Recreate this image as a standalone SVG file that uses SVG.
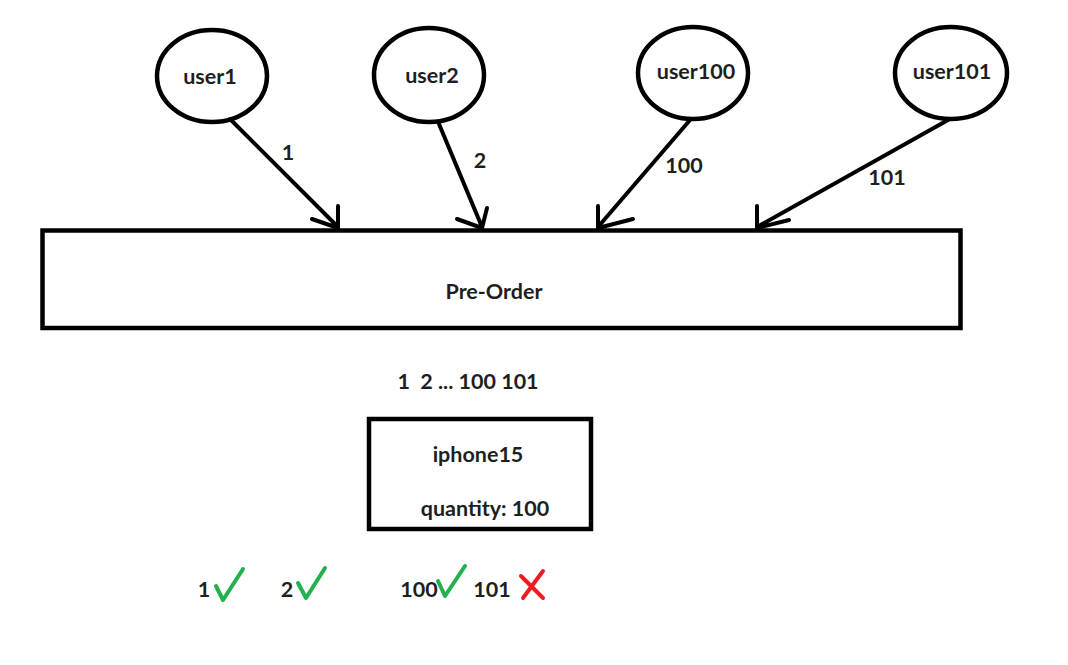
<svg xmlns="http://www.w3.org/2000/svg" width="1068" height="665" viewBox="0 0 1068 665">
<style>
.n{fill:#fff;stroke:#000;stroke-width:4.5}
.t{font-family:Lato,"Open Sans","Liberation Sans",sans-serif;font-weight:700;font-size:21.5px;fill:#1e1e1e;text-anchor:middle}
.c{fill:none;stroke:#000;stroke-width:4;stroke-linecap:round;stroke-linejoin:round}
.ok{fill:none;stroke:#22b14c;stroke-width:4;stroke-linecap:round;stroke-linejoin:round}
.no{fill:none;stroke:#ed1c24;stroke-width:4;stroke-linecap:round}
</style>
<rect width="1068" height="665" fill="#fff"/>
<g id="user1"><ellipse class="n" cx="212" cy="76" rx="55" ry="46"/><text class="t" x="210" y="84">user1</text></g>
<g id="user2"><ellipse class="n" cx="429" cy="75" rx="55" ry="47"/><text class="t" x="432" y="83">user2</text></g>
<g id="user100"><ellipse class="n" cx="693" cy="73" rx="55" ry="46"/><text class="t" x="696" y="79">user100</text></g>
<g id="user101"><ellipse class="n" cx="951" cy="73" rx="56" ry="46"/><text class="t" x="952" y="79">user101</text></g>
<g id="preorder"><rect class="n" x="42.5" y="230.5" width="918" height="97.5"/><text class="t" x="494" y="299">Pre-Order</text></g>
<g id="iphone15"><rect class="n" x="369" y="419" width="222" height="110"/><text class="t" x="478" y="462">iphone15</text><text class="t" x="485" y="516">quantity: 100</text></g>
<g id="connectors">
<path class="c" d="M230,119 L338,227 M338,206 L338,228 M312,219 L338,228"/>
<path class="c" d="M439,124 L482,227 M487,208 L482,228 M457,219 L482,228"/>
<path class="c" d="M690,120 L598,227 M598,206 L598,228 M633,219 L598,228"/>
<path class="c" d="M948,120 L757,227 M757,206 L757,228 M789,220 L757,228"/>
<text class="t" x="288" y="160">1</text>
<text class="t" x="480" y="168">2</text>
<text class="t" x="684" y="173">100</text>
<text class="t" x="887" y="185">101</text>
</g>
<g id="queue"><text class="t" x="468" y="389" xml:space="preserve">1  2 ... 100 101</text></g>
<g id="results">
<text class="t" x="204" y="597">1</text>
<path class="ok" d="M216,586 L223,600 L243,569"/>
<text class="t" x="287" y="597">2</text>
<path class="ok" d="M298,583 L306,598 L325,568"/>
<text class="t" x="419" y="597">100</text>
<path class="ok" d="M438,581 L445,596 L465,566"/>
<text class="t" x="492" y="597">101</text>
<path class="no" d="M521,576 L543,598 M543,571 L523,598"/>
</g>
</svg>
